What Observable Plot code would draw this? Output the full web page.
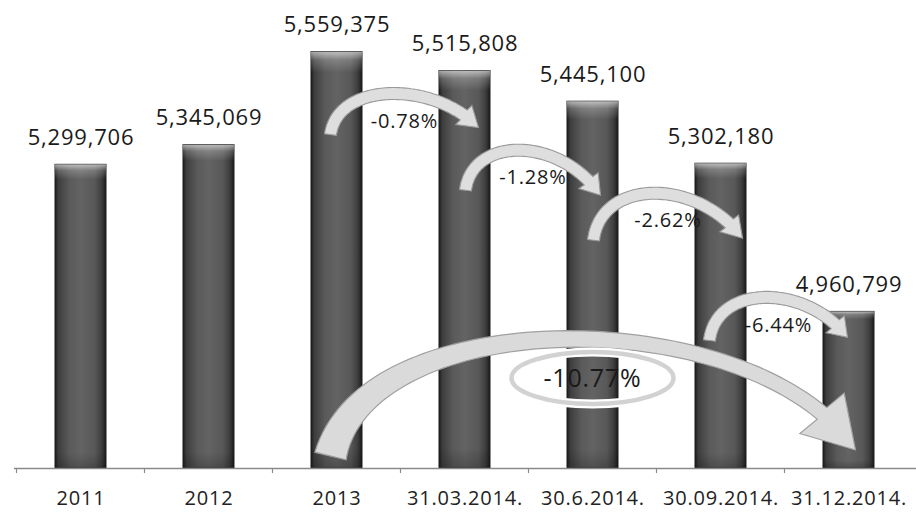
<!DOCTYPE html>
<html><head><meta charset="utf-8">
<script src="https://cdn.jsdelivr.net/npm/d3@7"></script>
<script src="https://cdn.jsdelivr.net/npm/@observablehq/plot@0.6"></script>
<style>
body{margin:0;background:#fff;}
svg text{letter-spacing:0.8px;}
</style>
</head><body><div id="chart"></div>
<script>
const categories = ["2011","2012","2013","31.03.2014.","30.6.2014.","30.09.2014.","31.12.2014."];
const values = [5299706,5345069,5559375,5515808,5445100,5302180,4960799];
const changeFrom = ["2013","31.03.2014.","30.6.2014.","30.09.2014.","2013"];
const changeTo = ["31.03.2014.","30.6.2014.","30.09.2014.","31.12.2014.","31.12.2014."];
const changeLabels = ["-0.78%","-1.28%","-2.62%","-6.44%","-10.77%"];
const yDomain = [4600000, 5600000];

const rows = categories.map((c, i) => ({category: c, value: values[i]}));
const fmt = d3.format(",");

const chart = Plot.plot({
  width: 916, height: 512,
  marginLeft: 14, marginRight: 0, marginTop: 34, marginBottom: 44,
  style: {fontFamily: "'Open Sans', sans-serif", fontSize: "20px", background: "#fff", color: "#222", overflow: "visible"},
  x: {domain: categories, paddingInner: 0.6, paddingOuter: 0.3, axis: null},
  y: {domain: yDomain, axis: null},
  marks: [
    Plot.barY(rows, {x: "category", y1: yDomain[0], y2: "value", fill: "url(#barGrad)", stroke: "#1c1c1c", strokeWidth: 1}),
    Plot.barY(rows, {x: "category", y1: yDomain[0], y2: "value", fill: "url(#barShade)"}),
    Plot.ruleY([yDomain[0]], {stroke: "#8a8a8a", strokeWidth: 1.3}),
    Plot.text(rows, {x: "category", y: "value", text: d => fmt(d.value), dy: -27, fontSize: 22, fill: "#1a1a1a"}),
    Plot.text(categories, {x: d => d, y: yDomain[0], text: d => d, dy: 30, fontSize: 20, fill: "#222"})
  ]
});
document.getElementById("chart").appendChild(chart);

// ---- gradients and annotations (positioned through Plot's scales) ----
const svg = d3.select(chart);
const defs = svg.insert("defs", ":first-child");
const g1 = defs.append("linearGradient").attr("id", "barGrad").attr("x1", 0).attr("x2", 1).attr("y1", 0).attr("y2", 0);
[[0,"#1e1e1e"],[0.07,"#3e3e3e"],[0.28,"#5a5a5a"],[0.5,"#636363"],[0.78,"#585858"],[0.92,"#3c3c3c"],[1,"#1a1a1a"]]
  .forEach(([o,c]) => g1.append("stop").attr("offset", o).attr("stop-color", c));
const g2 = defs.append("linearGradient").attr("id", "barShade").attr("x1", 0).attr("x2", 0).attr("y1", 0).attr("y2", 1);
[[0,"#fff",0.6],[0.02,"#fff",0.2],[0.05,"#fff",0],[0.95,"#000",0],[1,"#000",0.2]]
  .forEach(([o,c,a]) => g2.append("stop").attr("offset", o).attr("stop-color", c).attr("stop-opacity", a));

const xs = chart.scale("x"), ys = chart.scale("y");
const step = xs.apply(categories[1]) - xs.apply(categories[0]);
const bw = xs.bandwidth;
const cx = c => xs.apply(c) + bw / 2;
const Y = v => ys.apply(v);
const base = Y(yDomain[0]);
const valOf = c => values[categories.indexOf(c)];

// axis ticks at band boundaries
const ann = svg.append("g");
ann.selectAll("line.tk").data(categories).join("line")
  .attr("x1", c => cx(c) - step / 2).attr("x2", c => cx(c) - step / 2)
  .attr("y1", base).attr("y2", base + 5).attr("stroke", "#8a8a8a").attr("stroke-width", 1.2);

function bez(p0, c1, c2, p3, t) {
  const u = 1 - t;
  return [u*u*u*p0[0] + 3*u*u*t*c1[0] + 3*u*t*t*c2[0] + t*t*t*p3[0],
          u*u*u*p0[1] + 3*u*u*t*c1[1] + 3*u*t*t*c2[1] + t*t*t*p3[1]];
}
function blockArrow(p0, c1, c2, p3, w0, w1, headW, headL) {
  const N = 100;
  let tb = 1;
  for (let i = N; i >= 0; i--) {
    const t = i / N, p = bez(p0, c1, c2, p3, t);
    if (Math.hypot(p3[0]-p[0], p3[1]-p[1]) >= headL) { tb = t; break; }
  }
  const left = [], right = [];
  const M = 70;
  for (let i = 0; i <= M; i++) {
    const t = tb * i / M;
    const p = bez(p0, c1, c2, p3, t);
    const q = bez(p0, c1, c2, p3, Math.min(1, t + 0.002));
    const r = bez(p0, c1, c2, p3, Math.max(0, t - 0.002));
    let dx = q[0]-r[0], dy = q[1]-r[1]; const L = Math.hypot(dx, dy) || 1; dx /= L; dy /= L;
    const s = t / tb;
    const w = (w1 + (w0 - w1) * Math.pow(1 - s, 3)) / 2;
    left.push([p[0] - dy*w, p[1] + dx*w]);
    right.push([p[0] + dy*w, p[1] - dx*w]);
  }
  const b = bez(p0, c1, c2, p3, tb);
  let dx = p3[0]-b[0], dy = p3[1]-b[1]; const L = Math.hypot(dx, dy) || 1; dx /= L; dy /= L;
  const hl = [b[0] - dy*headW/2, b[1] + dx*headW/2], hr = [b[0] + dy*headW/2, b[1] - dx*headW/2];
  const pts = [...left, hl, p3, hr, ...right.reverse()];
  return "M" + pts.map(p => p[0].toFixed(1) + "," + p[1].toFixed(1)).join("L") + "Z";
}
function arrowPath(tail, tip, peak, k1, k2, w0, w1, hw, hl) {
  const yc = (peak - 0.125 * (tail[1] + tip[1])) / 0.75;
  const dx = tip[0] - tail[0];
  return blockArrow(tail, [tail[0] + k1*dx, yc], [tip[0] - k2*dx, yc], tip, w0, w1, hw, hl);
}

// big arrow (2013 -> 31.12.2014.)
{
  const i = 4;
  const tail = [cx(changeFrom[i]) - 6, base - 12];
  const tip = [cx(changeTo[i]) + 7, base - 18];
  const peak = base - 129;
  ann.append("path").attr("d", arrowPath(tail, tip, peak, 0.07, 0.19, 32, 15, 60, 46))
    .attr("fill", "#dadada").attr("stroke", "#a0a0a0").attr("stroke-width", 1.2);
  const ex = (cx(changeFrom[i]) + cx(changeTo[i])) / 2, ey = base - 90;
  ann.append("ellipse").attr("cx", ex).attr("cy", ey).attr("rx", 81).attr("ry", 26)
    .attr("fill", "none").attr("stroke", "#fff").attr("stroke-width", 9);
  ann.append("ellipse").attr("cx", ex).attr("cy", ey).attr("rx", 81).attr("ry", 26)
    .attr("fill", "none").attr("stroke", "#d2d2d2").attr("stroke-width", 4.5);
  ann.append("text").attr("x", ex).attr("y", ey).attr("text-anchor", "middle").attr("dy", "0.36em")
    .attr("font-size", 25).attr("fill", "#1a1a1a").text(changeLabels[i]);
}

// small arrows
const smallOffsets = [
  {dx0: -6, dy0: 64, dx3: 14, dy3: 57, dyp: 23},
  {dx0: 1, dy0: 89, dx3: 8, dy3: 94, dyp: 49},
  {dx0: 1, dy0: 77, dx3: 22, dy3: 75, dyp: 30},
  {dx0: -11, dy0: 29, dx3: -1, dy3: 26, dyp: -14}
];
smallOffsets.forEach((o, i) => {
  const top = Y(valOf(changeTo[i]));
  const tail = [cx(changeFrom[i]) + o.dx0, top + o.dy0];
  const tip = [cx(changeTo[i]) + o.dx3, top + o.dy3];
  const peak = top + o.dyp;
  ann.append("path").attr("d", arrowPath(tail, tip, peak, 0.05, 0.3, 12, 12, 25, 18))
    .attr("fill", "#dedede").attr("stroke", "#9a9a9a").attr("stroke-width", 1.1);
  ann.append("text").attr("x", (tail[0] + tip[0]) / 2).attr("y", peak + 27)
    .attr("text-anchor", "middle").attr("dy", "0.36em").attr("font-size", 20)
    .attr("fill", "#1a1a1a").text(changeLabels[i]);
});
</script>
</body></html>
